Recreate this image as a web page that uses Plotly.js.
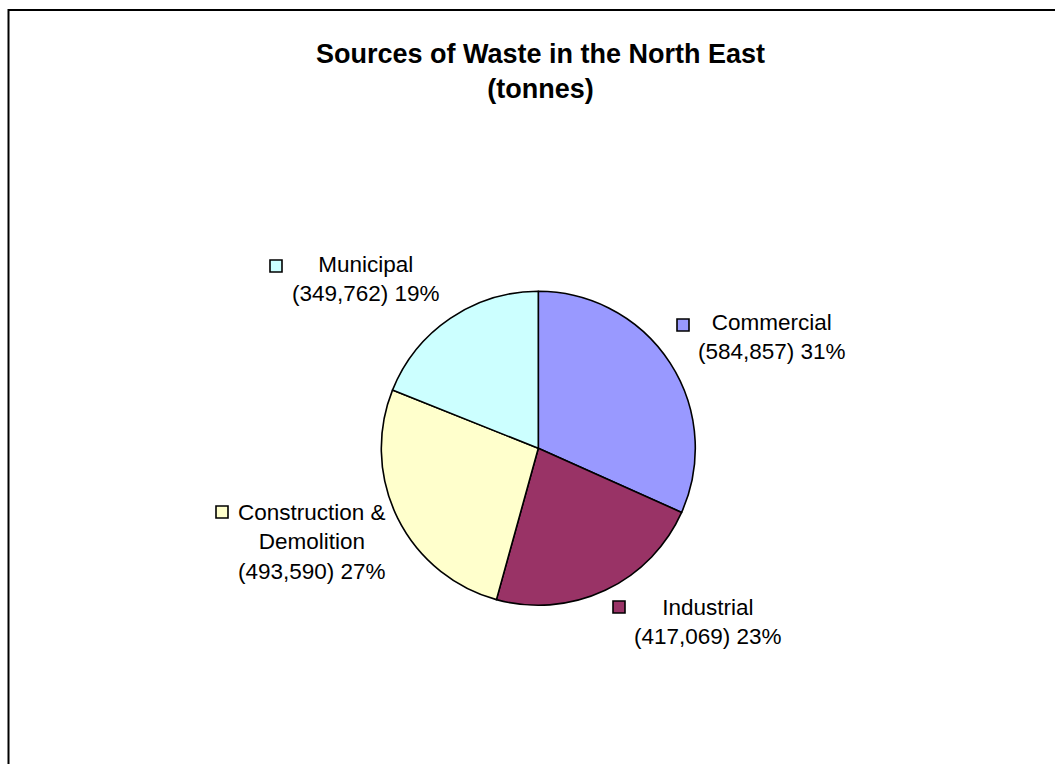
<!DOCTYPE html>
<html>
<head>
<meta charset="utf-8">
<script src="https://cdn.plot.ly/plotly-3.0.1.min.js"></script>
<style>
  html, body { margin: 0; padding: 0; background: #ffffff; }
  #chart { width: 1055px; height: 764px; }
</style>
</head>
<body>
<div id="chart"></div>
<script>
// ---- data ----
const categories = ["Commercial", "Industrial", "Construction & Demolition", "Municipal"];
const labelLines = ["Commercial", "Industrial", "Construction &<br>Demolition", "Municipal"];
const tonnes = [584857, 417069, 493590, 349762];
const percentShown = [31, 23, 27, 19];
const titleText = "Sources of Waste in the North East<br>(tonnes)";

// ---- styles / layout ----
const colors = ["#9999FF", "#993366", "#FFFFCC", "#CCFFFF"];
const W = 1055, H = 764;
const px = x => x / W;
const py = y => 1 - y / H;
const FONT = "Liberation Sans, Arial, Helvetica, sans-serif";

const cx = 538.3, cy = 448.3, R = 157;

// label anchor (text centre) and key square (top-left) per category, in pixels
const labelPos = [
  { tx: 772, ty: 337, sx: 677, sy: 319 },
  { tx: 708, ty: 622, sx: 613, sy: 601 },
  { tx: 312, ty: 542, sx: 216, sy: 506 },
  { tx: 366, ty: 279, sx: 270, sy: 260 }
];
const keySize = 12;

const fmt = n => n.toLocaleString("en-GB");

const annotations = [];
const shapes = [];

annotations.push({
  xref: "paper", yref: "paper",
  x: px(540), y: py(72),
  xanchor: "center", yanchor: "middle",
  text: "<b>" + titleText + "</b>",
  showarrow: false,
  font: { family: FONT, size: 27, color: "#000000" },
  align: "center"
});

categories.forEach((c, i) => {
  const p = labelPos[i];
  annotations.push({
    xref: "paper", yref: "paper",
    x: px(p.tx), y: py(p.ty),
    xanchor: "center", yanchor: "middle",
    text: labelLines[i] + "<br>(" + fmt(tonnes[i]) + ") " + percentShown[i] + "%",
    showarrow: false,
    align: "center",
    font: { family: FONT, size: 22.5, color: "#000000" }
  });
  shapes.push({
    type: "rect", xref: "paper", yref: "paper",
    x0: px(p.sx), x1: px(p.sx + keySize),
    y0: py(p.sy + keySize), y1: py(p.sy),
    fillcolor: colors[i],
    line: { color: "#000000", width: 1.6 }
  });
});

// outer chart border
shapes.push({
  type: "rect", xref: "paper", yref: "paper",
  x0: px(8.5), x1: px(1062), y0: py(772), y1: py(10),
  line: { color: "#000000", width: 2 },
  fillcolor: "rgba(0,0,0,0)"
});

const trace = {
  type: "pie",
  labels: categories,
  values: tonnes,
  sort: false,
  direction: "clockwise",
  rotation: 0,
  textinfo: "none",
  hoverinfo: "label+value+percent",
  marker: { colors: colors, line: { color: "#000000", width: 1.6 } },
  domain: { x: [px(cx - R), px(cx + R)], y: [py(cy + R), py(cy - R)] },
  automargin: false,
  showlegend: false
};

const layout = {
  width: W, height: H,
  margin: { l: 0, r: 0, t: 0, b: 0 },
  paper_bgcolor: "#ffffff",
  plot_bgcolor: "#ffffff",
  showlegend: false,
  annotations: annotations,
  shapes: shapes
};

Plotly.newPlot("chart", [trace], layout, { displayModeBar: false, staticPlot: true });
</script>
</body>
</html>
